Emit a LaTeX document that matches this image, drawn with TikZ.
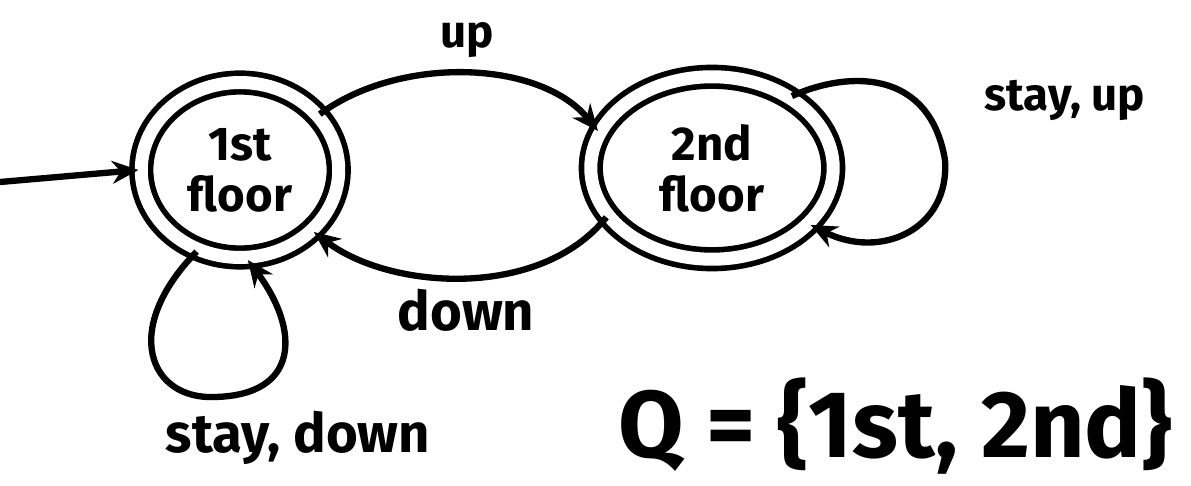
\documentclass[tikz,border=0pt]{standalone}
\usepackage{fontspec}
\setmainfont{Fira Sans}
\usetikzlibrary{arrows.meta,shapes.geometric}
\tikzset{
  stbox/.style={ellipse, draw, line width=3.2pt, double, double distance=0.26cm, inner sep=0pt, font=\bfseries\fontsize{27}{29}\selectfont, align=center},
  edge/.style={line width=3.6pt, -{Stealth[length=15pt,width=13pt]}},
  lbl/.style={font=\bfseries\fontsize{26}{28}\selectfont},
  biglbl/.style={font=\bfseries\fontsize{31}{33}\selectfont}
}
\begin{document}
\begin{tikzpicture}[x=0.02cm,y=-0.02cm]
\useasboundingbox (0,0) rectangle (1191,486);
\node[stbox, minimum width=3.95cm, minimum height=3.5cm] (s1) at (240,170) {1st\\floor};
\node[stbox, minimum width=4.85cm, minimum height=3.65cm] (s2) at (712,168) {2nd\\floor};
\coordinate (start) at (0,182);
\draw[edge] (start) -- (s1.west);
\draw[edge] (s1.35) .. controls (400,55) and (540,60) .. (s2.162) node[lbl, pos=0.5, above=4pt] (up) {up};
\draw[edge] (s2.205) .. controls (540,300) and (390,290) .. (s1.-40);
\node[biglbl] (dn) at (466,310) {down};
\draw[edge] (s1.-118) .. controls (120,330) and (150,400) .. (215,397) .. controls (300,395) and (300,330) .. (s1.-85);
\node[biglbl] (l1) at (298,438) {stay, down};
\draw[edge] (s2.42) .. controls (850,70) and (930,70) .. (945,160) .. controls (950,230) and (880,260) .. (s2.-30);
\node[lbl] (l2) at (1065,100) {stay, up};
\node[font=\bfseries\fontsize{54}{58}\selectfont, anchor=base west] (q) at (612,458) {Q = \{1st, 2nd\}};
\end{tikzpicture}
\end{document}
